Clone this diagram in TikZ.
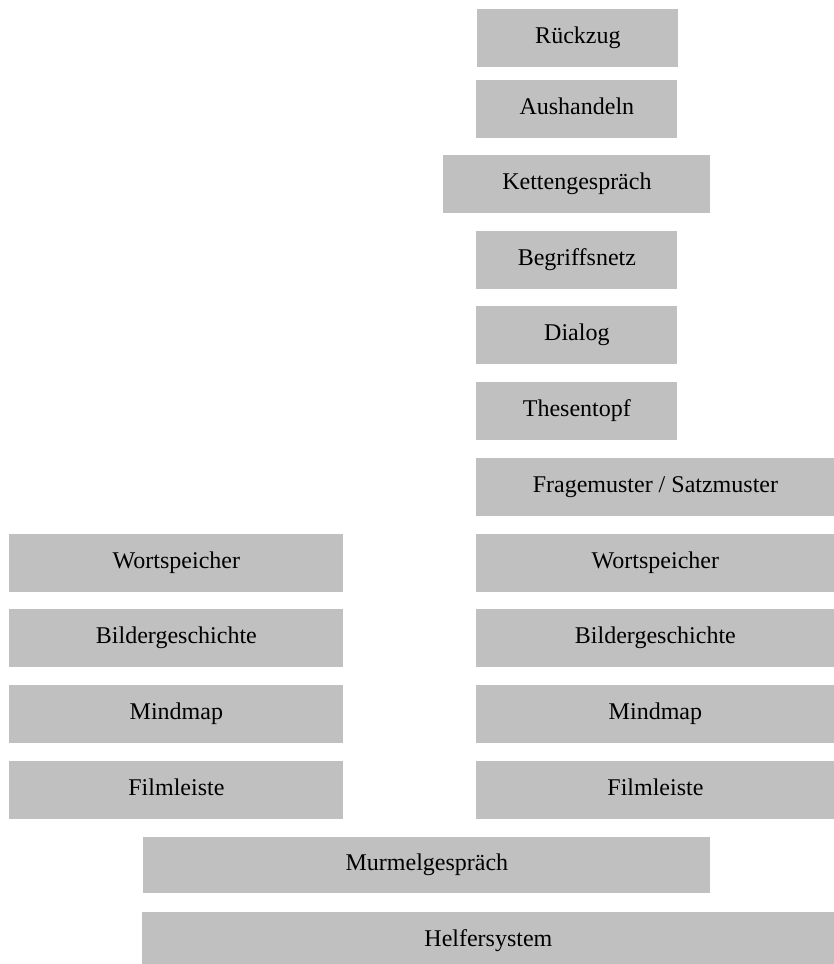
\documentclass[tikz,border=0pt]{standalone}
\usepackage{fontspec}
\setmainfont{Liberation Serif}
\definecolor{TileClr}{HTML}{C0C0C0}
\tikzset{tile/.style={fill=TileClr,anchor=north west,inner sep=0pt,
  minimum height=29pt,text height=0.7em,text depth=0.22em,
  font=\fontsize{12}{14}\selectfont}}

\begin{document}
\begin{tikzpicture}[x=0.5pt,y=-0.5pt]
\clip (0,0) rectangle (834,964);

% upper column
\node[tile,minimum width=100.5pt] (rueckzug) at (477,9) {Rückzug};
\node[tile,minimum width=100.5pt] (aushandeln) at (476,80) {Aushandeln};
\node[tile,minimum width=133.5pt] (kette) at (443,155) {Kettengespräch};
\node[tile,minimum width=100.5pt] (begriff) at (476,231) {Begriffsnetz};
\node[tile,minimum width=100.5pt] (dialog) at (476,306) {Dialog};
\node[tile,minimum width=100.5pt] (thesen) at (476,382) {Thesentopf};
\node[tile,minimum width=179pt] (muster) at (476,458) {Fragemuster / Satzmuster};

% left column
\node[tile,minimum width=167pt] (wortL) at (9,534) {Wortspeicher};
\node[tile,minimum width=167pt] (bildL) at (9,609) {Bildergeschichte};
\node[tile,minimum width=167pt] (mindL) at (9,685) {Mindmap};
\node[tile,minimum width=167pt] (filmL) at (9,761) {Filmleiste};

% right column
\node[tile,minimum width=179pt] (wortR) at (476,534) {Wortspeicher};
\node[tile,minimum width=179pt] (bildR) at (476,609) {Bildergeschichte};
\node[tile,minimum width=179pt] (mindR) at (476,685) {Mindmap};
\node[tile,minimum width=179pt] (filmR) at (476,761) {Filmleiste};

% base
\node[tile,minimum width=283.5pt,minimum height=28pt] (murmel) at (143,837) {Murmelgespräch};
\node[tile,minimum width=346pt] (helfer) at (142,912) {Helfersystem};

\end{tikzpicture}
\end{document}
